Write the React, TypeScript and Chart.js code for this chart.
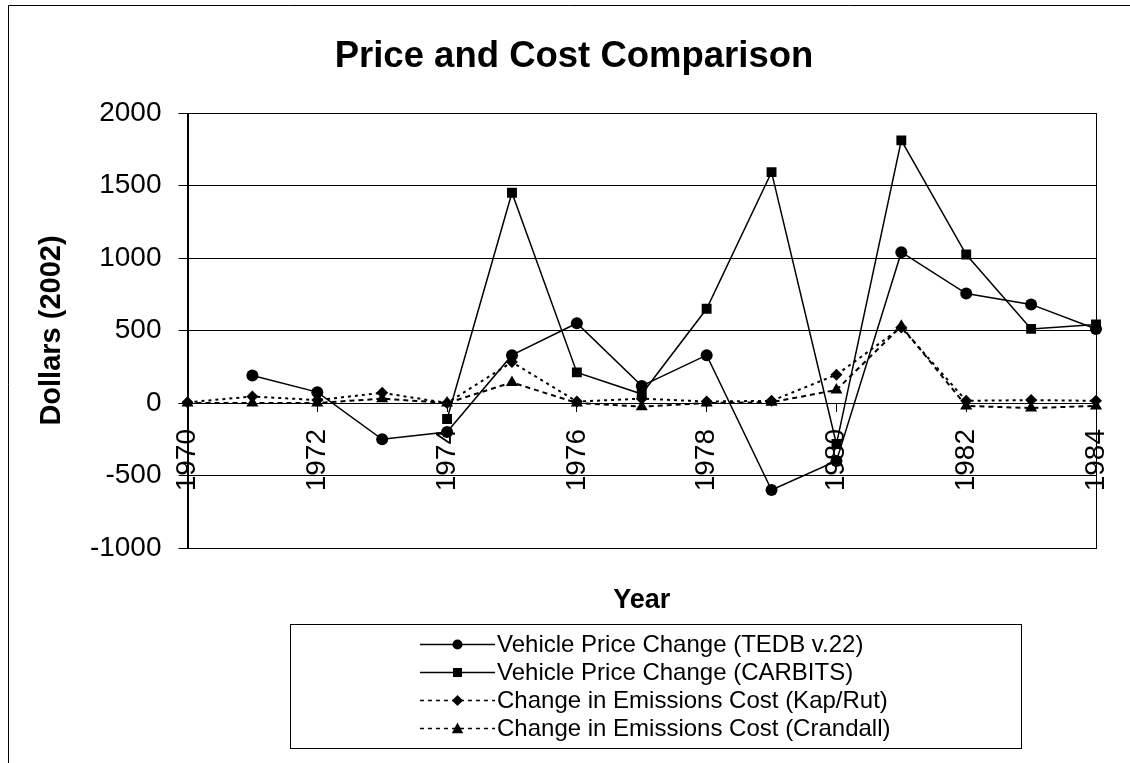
import React, { useEffect, useRef } from 'react';
import { Chart, registerables } from 'chart.js';

Chart.register(...registerables);

const FONT = '"Liberation Sans", Arial, Helvetica, sans-serif';

const chartTitle = 'Price and Cost Comparison';
const yAxisTitle = 'Dollars (2002)';
const xAxisTitle = 'Year';

const years = ['1970', '1971', '1972', '1973', '1974', '1975', '1976', '1977', '1978', '1979', '1980', '1981', '1982', '1983', '1984'];

const seriesLabels = [
  'Vehicle Price Change (TEDB v.22)',
  'Vehicle Price Change (CARBITS)',
  'Change in Emissions Cost (Kap/Rut)',
  'Change in Emissions Cost (Crandall)',
];

const tedb = [null, 190, 75, -250, -200, 330, 550, 118, 330, -600, -400, 1040, 755, 680, 510];
const carbits = [null, null, null, null, -110, 1450, 211, 62, 650, 1592, -283, 1811, 1024, 511, 541];
const kapRut = [5, 45, 20, 70, 0, 282, 10, 30, 10, 15, 195, 520, 15, 20, 15];
const crandall = [0, 0, 0, 30, 0, 142, 0, -25, 0, 5, 90, 530, -20, -35, -20];

const yMin = -1000;
const yMax = 2000;
const yStep = 500;

function drawMarker(ctx: CanvasRenderingContext2D, style: string, x: number, y: number, r: number) {
  ctx.beginPath();
  if (style === 'circle') {
    ctx.arc(x, y, r, 0, Math.PI * 2);
  } else if (style === 'rect') {
    ctx.rect(x - r, y - r, 2 * r, 2 * r);
  } else if (style === 'rectRot') {
    ctx.moveTo(x, y - r);
    ctx.lineTo(x + r, y);
    ctx.lineTo(x, y + r);
    ctx.lineTo(x - r, y);
    ctx.closePath();
  } else if (style === 'triangle') {
    ctx.moveTo(x, y - r);
    ctx.lineTo(x + r * 0.95, y + r * 0.8);
    ctx.lineTo(x - r * 0.95, y + r * 0.8);
    ctx.closePath();
  }
  ctx.fill();
}

const decorPlugin = {
  id: 'decor',
  beforeDraw(chart: any) {
    const { ctx, width, height } = chart;
    ctx.save();
    ctx.fillStyle = '#ffffff';
    ctx.fillRect(0, 0, width, height);
    ctx.strokeStyle = '#000';
    ctx.lineWidth = 1;
    ctx.beginPath();
    ctx.moveTo(8.5, height);
    ctx.lineTo(8.5, 5.5);
    ctx.lineTo(width, 5.5);
    ctx.stroke();
    ctx.fillStyle = '#000';
    ctx.font = `bold 36.5px ${FONT}`;
    ctx.textAlign = 'center';
    ctx.textBaseline = 'alphabetic';
    ctx.fillText(chartTitle, 574, 67);
    ctx.restore();
  },
  beforeDatasetsDraw(chart: any) {
    const { ctx, chartArea } = chart;
    ctx.save();
    ctx.strokeStyle = '#000';
    ctx.lineWidth = 1;
    ctx.strokeRect(
      Math.round(chartArea.left) + 0.5,
      Math.round(chartArea.top) + 0.5,
      Math.round(chartArea.right) - Math.round(chartArea.left),
      Math.round(chartArea.bottom) - Math.round(chartArea.top)
    );
    ctx.restore();
  },
  afterDraw(chart: any) {
    const { ctx, chartArea } = chart;
    ctx.save();
    ctx.fillStyle = '#000';
    ctx.font = `bold 27px ${FONT}`;
    ctx.textAlign = 'center';
    ctx.textBaseline = 'alphabetic';
    ctx.fillText(xAxisTitle, (chartArea.left + chartArea.right) / 2, 608);

    // legend box
    ctx.strokeStyle = '#000';
    ctx.lineWidth = 1;
    ctx.strokeRect(290.5, 624.5, 731, 124);
    const rows = [644, 672, 700, 728];
    const sizes: Record<string, number> = { circle: 5, rect: 4.5, rectRot: 5.5, triangle: 6 };
    chart.data.datasets.forEach((ds: any, i: number) => {
      const y = rows[i];
      ctx.save();
      ctx.strokeStyle = '#000';
      ctx.lineWidth = 1.5;
      ctx.setLineDash(ds.borderDash ? [4, 4] : []);
      ctx.beginPath();
      ctx.moveTo(420, y + 0.5);
      ctx.lineTo(495, y + 0.5);
      ctx.stroke();
      ctx.setLineDash([]);
      ctx.fillStyle = '#000';
      drawMarker(ctx, ds.pointStyle, 457.5, y + 0.5, sizes[ds.pointStyle]);
      ctx.restore();
      ctx.fillStyle = '#000';
      ctx.font = `24px ${FONT}`;
      ctx.textAlign = 'left';
      ctx.textBaseline = 'middle';
      ctx.fillText(ds.label, 497, y + 1);
    });
    ctx.restore();
  },
};

export default function App() {
  const canvasRef = useRef<HTMLCanvasElement | null>(null);

  useEffect(() => {
    const canvas = canvasRef.current;
    if (!canvas) return;
    const common = {
      borderColor: '#000',
      backgroundColor: '#000',
      pointBackgroundColor: '#000',
      pointBorderColor: '#000',
      pointBorderWidth: 0,
      tension: 0,
      spanGaps: false,
      fill: false,
    };
    const chart = new Chart(canvas, {
      type: 'line',
      data: {
        labels: years,
        datasets: [
          { ...common, label: seriesLabels[0], data: tedb, pointStyle: 'circle', pointRadius: 6, borderWidth: 1.5 },
          { ...common, label: seriesLabels[1], data: carbits, pointStyle: 'rect', pointRadius: 7, borderWidth: 1.5 },
          { ...common, label: seriesLabels[2], data: kapRut, pointStyle: 'rectRot', pointRadius: 6, borderWidth: 2, borderDash: [3, 4] },
          { ...common, label: seriesLabels[3], data: crandall, pointStyle: 'triangle', pointRadius: 7, borderWidth: 2, borderDash: [5, 4] },
        ],
      } as any,
      options: {
        animation: false,
        responsive: false,
        maintainAspectRatio: false,
        layout: { padding: { left: 8, top: 113, right: 34, bottom: 215 } },
        plugins: {
          legend: { display: false },
          title: { display: false },
          tooltip: { enabled: false },
        },
        scales: {
          x: {
            type: 'category',
            position: { y: 0 } as any,
            offset: false,
            grid: {
              drawOnChartArea: false,
              drawTicks: true,
              tickLength: 8,
              color: (c: any) => (c.index % 2 === 0 ? '#000' : 'rgba(0,0,0,0)'),
            },
            border: { display: true, color: '#000', width: 1 },
            ticks: {
              autoSkip: false,
              minRotation: 90,
              maxRotation: 90,
              padding: 18,
              color: '#000',
              font: { size: 28, family: FONT },
              callback: function (this: any, v: any, i: number) {
                return i % 2 === 0 ? this.getLabelForValue(v) : '';
              },
            },
            afterFit: (s: any) => {
              s.height = 0;
              s.paddingLeft = 0;
              s.paddingRight = 0;
            },
          },
          y: {
            type: 'linear',
            min: yMin,
            max: yMax,
            ticks: {
              stepSize: yStep,
              color: '#000',
              padding: 17,
              font: { size: 28, family: FONT },
              callback: (v: any) => String(v),
            },
            grid: { color: '#000', lineWidth: 1, drawTicks: true, tickLength: 9 },
            border: { display: true, color: '#000', width: 1 },
            title: {
              display: true,
              text: yAxisTitle,
              color: '#000',
              font: { size: 29, weight: 'bold', family: FONT },
              padding: { top: 26.6, bottom: 0 },
            },
            afterFit: (s: any) => {
              s.width = 179.5;
              s.paddingTop = 0;
              s.paddingBottom = 0;
            },
          },
        },
      } as any,
      plugins: [decorPlugin],
    });
    return () => chart.destroy();
  }, []);

  return (
    <div style={{ position: 'fixed', left: 0, top: 0, width: 1130, height: 763, background: '#fff' }}>
      <canvas ref={canvasRef} width={1130} height={763} style={{ display: 'block', width: 1130, height: 763 }} />
    </div>
  );
}
